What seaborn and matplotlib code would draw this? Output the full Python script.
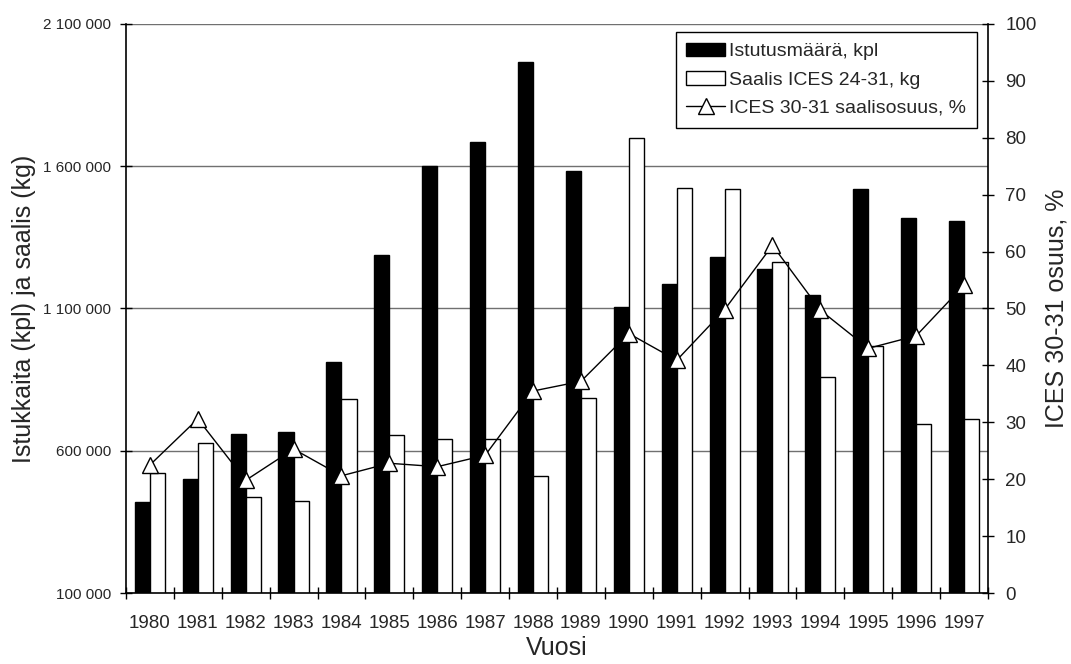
import numpy as np
import pandas as pd
import matplotlib
matplotlib.use("Agg")
import matplotlib.pyplot as plt
import seaborn as sns

# Data
years = ["1980", "1981", "1982", "1983", "1984", "1985", "1986", "1987", "1988",
         "1989", "1990", "1991", "1992", "1993", "1994", "1995", "1996", "1997"]
istutus = [421000, 501000, 658000, 667000, 912000, 1288000, 1602000, 1684000, 1966000,
           1583000, 1104000, 1186000, 1280000, 1240000, 1146000, 1520000, 1419000, 1408000]
saalis = [522000, 628000, 436000, 423000, 781000, 656000, 640000, 641000, 510000,
          786000, 1700000, 1525000, 1520000, 1265000, 859000, 967000, 695000, 712000]
osuus = [22.5, 30.6, 19.8, 25.3, 20.6, 22.8, 22.2, 24.2, 35.5,
         37.2, 45.6, 40.9, 49.8, 61.1, 49.7, 43.0, 45.2, 54.1]

series_names = ["Istutusmäärä, kpl", "Saalis ICES 24-31, kg"]
line_name = "ICES 30-31 saalisosuus, %"

left_ticks = [100000, 600000, 1100000, 1600000, 2100000]
left_tick_labels = ["100 000", "600 000", "1 100 000", "1 600 000", "2 100 000"]
right_ticks = list(range(0, 101, 10))

df = pd.DataFrame({
    "Vuosi": years * 2,
    "sarja": [series_names[0]] * len(years) + [series_names[1]] * len(years),
    "arvo": istutus + saalis,
})

sns.set_style("ticks")
plt.rcParams["font.family"] = ["Liberation Sans", "DejaVu Sans"]

fig, ax = plt.subplots(figsize=(10.71, 6.64), dpi=100)
fig.subplots_adjust(left=0.1176, right=0.9225, top=0.9639, bottom=0.1069)

# bars: planted amount (black) and catch (white)
sns.barplot(data=df, x="Vuosi", y="arvo", hue="sarja", order=years,
            hue_order=series_names, palette=["black", "white"],
            edgecolor="black", linewidth=1, width=0.63, gap=0,
            saturation=1, ax=ax)

ax.set_ylim(left_ticks[0], left_ticks[-1])
ax.set_yticks(left_ticks)
ax.set_yticklabels(left_tick_labels, fontsize=11)
ax.yaxis.grid(True, color="#707070", linewidth=1)
ax.set_axisbelow(True)
ax.set_xlim(-0.5, len(years) - 0.5)

# category labels centred, tick marks between categories
ax.tick_params(axis="x", which="major", length=0, labelsize=13.5, pad=16)
ax.set_xticks(np.arange(len(years) + 1) - 0.5, minor=True)
ax.tick_params(axis="x", which="minor", length=8, direction="inout", width=1, color="black")
ax.tick_params(axis="y", length=9, direction="inout", width=1, color="black", pad=6)

ax.set_xlabel("Vuosi", fontsize=18)
ax.xaxis.set_label_coords(0.5, -0.075)
ax.set_ylabel("Istukkaita (kpl) ja saalis (kg)", fontsize=18)
ax.yaxis.set_label_coords(-0.104, 0.5)

for s in ["top", "right"]:
    ax.spines[s].set_visible(False)
for s in ["left", "bottom"]:
    ax.spines[s].set_color("black")
    ax.spines[s].set_linewidth(1.2)

# share line on the right axis
ax2 = ax.twinx()
sns.pointplot(x=years, y=osuus, order=years, color="black", markers="^",
              linestyles="-", errorbar=None, linewidth=1, markersize=11,
              markerfacecolor="white", markeredgecolor="black", markeredgewidth=1,
              label=line_name, ax=ax2)
ax2.set_ylim(0, 100)
ax2.set_yticks(right_ticks)
ax2.tick_params(axis="y", length=9, direction="inout", width=1, color="black",
                labelsize=13.5, pad=8)
ax2.set_ylabel("ICES 30-31 osuus, %", fontsize=18, rotation=90)
ax2.yaxis.set_label_coords(1.066, 0.5)
ax2.set_xlim(-0.5, len(years) - 0.5)
for s in ["top", "left", "bottom"]:
    ax2.spines[s].set_visible(False)
ax2.spines["right"].set_color("black")
ax2.spines["right"].set_linewidth(1.2)

if ax.get_legend() is not None:
    ax.get_legend().remove()
h1, l1 = ax.get_legend_handles_labels()
h2, l2 = ax2.get_legend_handles_labels()
leg = ax2.legend(h1 + h2[:1], l1 + [line_name], loc="upper right",
                 bbox_to_anchor=(0.987, 0.986), borderaxespad=0, fontsize=14,
                 frameon=True, fancybox=False, edgecolor="black", framealpha=1,
                 handlelength=2.0, handletextpad=0.2, labelspacing=0.55,
                 borderpad=0.55, numpoints=1)
leg.get_frame().set_linewidth(1)

fig.savefig("out.png", dpi=100)
